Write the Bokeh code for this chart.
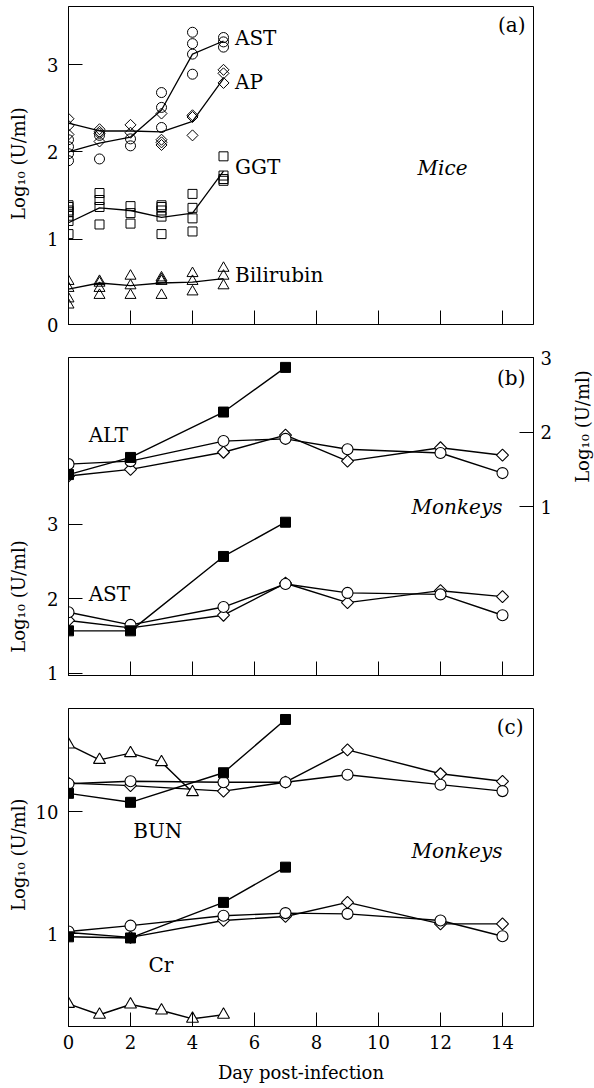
from math import pi
from bokeh.plotting import figure
from bokeh.models import Range1d, LinearAxis, FixedTicker, Label, CustomJSTickFormatter
from bokeh.layouts import column, row
from bokeh.embed import file_html
from bokeh.resources import INLINE

FONT = "DejaVu Serif"

# ---------------- data ----------------
x_ticks = [0, 2, 4, 6, 8, 10, 12, 14]

# (a) Mice: individual values per day and mean line
mice_days = [0, 1, 2, 3, 4, 5]
ast_mice_pts = [[2.14, 2.06, 1.98, 1.90], [2.19, 1.92], [2.15, 2.07],
                [2.68, 2.51, 2.28], [3.37, 3.24, 3.12, 2.89], [3.31, 3.26, 3.20]]
ast_mice_mean = [2.00, 2.10, 2.17, 2.48, 3.12, 3.27]
ap_mice_pts = [[2.38, 2.30, 2.20], [2.26, 2.23, 2.21, 2.12], [2.31, 2.22],
               [2.44, 2.14, 2.11, 2.08], [2.42, 2.40, 2.19], [2.94, 2.90, 2.79]]
ap_mice_mean = [2.33, 2.24, 2.24, 2.23, 2.35, 2.84]
ggt_mice_pts = [[1.39, 1.37, 1.33, 1.31, 1.27, 1.21, 1.06], [1.53, 1.45, 1.37, 1.17],
                [1.38, 1.30, 1.18], [1.39, 1.37, 1.33, 1.26, 1.06],
                [1.52, 1.36, 1.24, 1.09], [1.95, 1.73, 1.69, 1.67]]
ggt_mice_mean = [1.19, 1.36, 1.33, 1.25, 1.30, 1.78]
bil_mice_pts = [[0.52, 0.44, 0.32, 0.25], [0.52, 0.50, 0.44, 0.36], [0.58, 0.47, 0.36],
                [0.56, 0.54, 0.52, 0.36], [0.61, 0.52, 0.40], [0.67, 0.58, 0.47]]
bil_mice_mean = [0.43, 0.50, 0.47, 0.50, 0.51, 0.55]

# (b) Monkeys ALT (right axis) and AST (left axis)
monk_days = [0, 2, 5, 7, 9, 12, 14]
sq_days = [0, 2, 5, 7]
alt_sq = [1.43, 1.66, 2.27, 2.87]
alt_circ = [1.57, 1.61, 1.88, 1.91, 1.77, 1.72, 1.45]
alt_diam = [1.41, 1.50, 1.73, 1.96, 1.61, 1.79, 1.69]
ast_sq = [1.57, 1.57, 2.57, 3.03]
ast_circ = [1.82, 1.65, 1.89, 2.20, 2.08, 2.06, 1.78]
ast_diam = [1.71, 1.61, 1.78, 2.21, 1.95, 2.11, 2.03]

# (c) Monkeys BUN and Cr (log axis)
tri_bun_days = [0, 1, 2, 3, 4]
bun_tri = [35.4, 26.5, 30.1, 25.4, 14.4]
bun_sq = [14.1, 11.9, 20.8, 56.8]
bun_circ = [16.9, 17.7, 17.4, 17.4, 20.0, 16.6, 14.7]
bun_diam = [17.1, 16.3, 14.7, 17.4, 32.0, 20.4, 17.7]
tri_cr_days = [0, 1, 2, 3, 4, 5]
cr_tri = [0.265, 0.216, 0.262, 0.234, 0.200, 0.216]
cr_sq = [0.94, 0.92, 1.80, 3.50]
cr_circ = [1.04, 1.16, 1.40, 1.47, 1.45, 1.28, 0.95]
cr_diam = [1.02, 0.93, 1.28, 1.38, 1.80, 1.20, 1.20]

YLAB = "Log\u2081\u2080 (U/ml)"
XLAB = "Day post-infection"

TICK_FS = "18px"
LAB_FS = "20px"
AX_FS = "18px"


def style_axis(ax):
    ax.major_tick_in = 14
    ax.major_tick_out = 0
    ax.minor_tick_in = 0
    ax.minor_tick_out = 0
    ax.axis_line_color = "black"
    ax.major_tick_line_color = "black"
    ax.major_label_text_font = FONT
    ax.major_label_text_font_size = TICK_FS
    ax.major_label_text_color = "black"


def make_fig(width, height, top, bottom, right, y_range, y_type="linear", show_x=False):
    p = figure(width=width, height=height, x_range=Range1d(0, 15), y_range=y_range,
               y_axis_type=y_type, output_backend="svg", toolbar_location=None,
               min_border_left=38, min_border_right=right, min_border_top=top,
               min_border_bottom=bottom)
    p.grid.visible = False
    p.outline_line_color = "black"
    p.outline_line_width = 1
    p.background_fill_color = "white"
    p.border_fill_color = "white"
    for ax in p.axis:
        style_axis(ax)
    p.xaxis.ticker = FixedTicker(ticks=x_ticks)
    if show_x:
        p.xaxis.major_label_standoff = 8
    else:
        p.xaxis.major_label_text_font_size = "1px"
        p.xaxis.major_label_text_color = None
        p.xaxis.major_label_standoff = 0
    p.yaxis.major_label_standoff = 10
    return p


def text_fig(width, height):
    # narrow blank figure holding a rotated axis title; coordinates are pixels from top-left
    p = figure(width=width, height=height, x_range=Range1d(0, width),
               y_range=Range1d(height, 0), output_backend="svg", toolbar_location=None,
               min_border_left=0, min_border_right=0, min_border_top=0,
               min_border_bottom=0, x_axis_location=None, y_axis_location=None)
    p.grid.visible = False
    p.outline_line_color = None
    p.background_fill_color = "white"
    p.border_fill_color = "white"
    return p


def lab(p, x, y, text, size=LAB_FS, align="left", baseline="middle",
        style="normal", angle=0.0):
    p.add_layout(Label(x=x, y=y, text=text, text_font=FONT, text_font_size=size,
                       text_align=align, text_baseline=baseline,
                       text_font_style=style, angle=angle, text_color="black"))


def flat(days, pts):
    xs, ys = [], []
    for d, vals in zip(days, pts):
        for v in vals:
            xs.append(d)
            ys.append(v)
    return xs, ys


# ---------------- panel (a) ----------------
pa = make_fig(564, 340, 6, 16, 61, Range1d(0.025, 3.665))
pa.yaxis.ticker = FixedTicker(ticks=[0.025, 1, 2, 3])
pa.yaxis.formatter = CustomJSTickFormatter(code="return tick < 0.5 ? '0' : String(Math.round(tick));")

mk_a = dict(fill_color=None, line_color="black", line_width=1.0)
for pts, mean, marker, size, angle in [
        (ast_mice_pts, ast_mice_mean, "circle", 10, 0.0),
        (ap_mice_pts, ap_mice_mean, "square", 7.8, pi / 4),
        (ggt_mice_pts, ggt_mice_mean, "square", 9, 0.0),
        (bil_mice_pts, bil_mice_mean, "triangle", 11, 0.0)]:
    xs, ys = flat(mice_days, pts)
    pa.scatter(xs, ys, marker=marker, size=size, angle=angle, **mk_a)
    pa.line(mice_days, mean, line_color="black", line_width=1.3)

lab(pa, 5.37, 3.30, "AST")
lab(pa, 5.37, 2.80, "AP")
lab(pa, 5.37, 1.83, "GGT")
lab(pa, 5.37, 0.59, "Bilirubin")
lab(pa, 11.26, 1.82, "Mice", style="italic")
lab(pa, 14.74, 3.45, "(a)", align="right")

ta = text_fig(30, 340)
lab(ta, 18, 168, YLAB, size=AX_FS, align="center", angle=pi / 2)

# ---------------- panel (b) ----------------
pb = make_fig(533, 350, 17, 15, 30, Range1d(0.97, 5.244))
pb.yaxis.ticker = FixedTicker(ticks=[1, 2, 3])
pb.extra_y_ranges = {"right": Range1d(-1.27, 3.003)}
rax = LinearAxis(y_range_name="right", ticker=FixedTicker(ticks=[1, 2, 3]))
style_axis(rax)
rax.major_label_standoff = 7
pb.add_layout(rax, "right")

LW = 1.4
for yr, sq, circ, diam in [("right", alt_sq, alt_circ, alt_diam),
                           ("default", ast_sq, ast_circ, ast_diam)]:
    pb.line(monk_days, diam, line_color="black", line_width=LW, y_range_name=yr)
    pb.line(monk_days, circ, line_color="black", line_width=LW, y_range_name=yr)
    pb.line(sq_days, sq, line_color="black", line_width=LW, y_range_name=yr)
    pb.scatter(monk_days, diam, marker="square", angle=pi / 4, size=8.5,
               fill_color="white", line_color="black", line_width=1.1, y_range_name=yr)
    pb.scatter(monk_days, circ, marker="circle", size=11,
               fill_color="white", line_color="black", line_width=1.1, y_range_name=yr)
    pb.scatter(sq_days, sq, marker="square", size=10,
               fill_color="black", line_color="black", line_width=1.0, y_range_name=yr)

lab(pb, 0.65, 4.196, "ALT")
lab(pb, 0.65, 2.072, "AST")
lab(pb, 14.0, 3.241, "Monkeys", align="right", style="italic")
lab(pb, 14.74, 4.975, "(b)", align="right")

tb = text_fig(30, 350)
lab(tb, 18, 263, YLAB, size=AX_FS, align="center", angle=pi / 2)
tbr = text_fig(31, 350)
lab(tbr, 19, 76, YLAB, size=AX_FS, align="center", angle=pi / 2)

# ---------------- panel (c) ----------------
pc = make_fig(564, 398, 18, 62, 61, Range1d(0.173, 69.9), y_type="log", show_x=True)
pc.yaxis.ticker = FixedTicker(ticks=[1, 10])
pc.yaxis.formatter = CustomJSTickFormatter(code="return String(Math.round(tick));")
pc.xaxis.axis_label = XLAB
pc.xaxis.axis_label_text_font = FONT
pc.xaxis.axis_label_text_font_size = AX_FS
pc.xaxis.axis_label_text_font_style = "normal"
pc.xaxis.axis_label_text_color = "black"
pc.xaxis.axis_label_standoff = 10

for sq, circ, diam in [(bun_sq, bun_circ, bun_diam), (cr_sq, cr_circ, cr_diam)]:
    pc.line(monk_days, diam, line_color="black", line_width=LW)
    pc.line(monk_days, circ, line_color="black", line_width=LW)
    pc.line(sq_days, sq, line_color="black", line_width=LW)
    pc.scatter(monk_days, diam, marker="square", angle=pi / 4, size=8.5,
               fill_color="white", line_color="black", line_width=1.1)
    pc.scatter(monk_days, circ, marker="circle", size=11,
               fill_color="white", line_color="black", line_width=1.1)
    pc.scatter(sq_days, sq, marker="square", size=10,
               fill_color="black", line_color="black", line_width=1.0)

for days, tri in [(tri_bun_days, bun_tri), (tri_cr_days, cr_tri)]:
    pc.line(days, tri, line_color="black", line_width=LW)
    pc.scatter(days, tri, marker="triangle", size=12,
               fill_color="white", line_color="black", line_width=1.1)

lab(pc, 2.09, 6.99, "BUN")
lab(pc, 2.58, 0.557, "Cr")
lab(pc, 14.0, 4.79, "Monkeys", align="right", style="italic")
lab(pc, 14.68, 49.7, "(c)", align="right")

tc = text_fig(30, 398)
lab(tc, 18, 183, YLAB, size=AX_FS, align="center", angle=pi / 2)

layout = column(row(ta, pa, spacing=0),
                row(tb, pb, tbr, spacing=0),
                row(tc, pc, spacing=0), spacing=0)

with open("out.html", "w") as f:
    f.write(file_html(layout, INLINE))
